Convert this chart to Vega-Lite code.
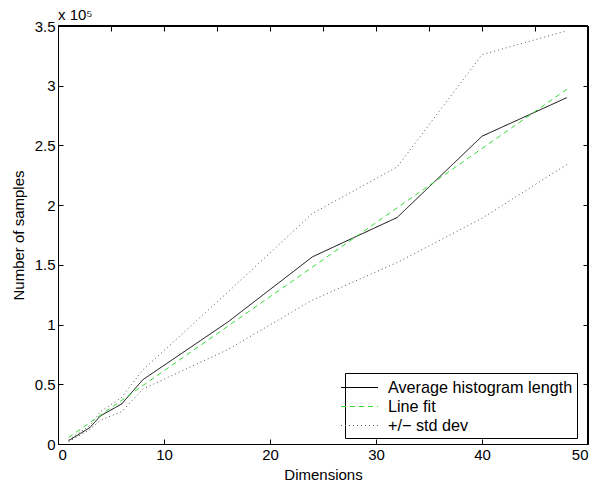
{
  "$schema": "https://vega.github.io/schema/vega-lite/v6.json",
  "width": 530,
  "height": 418,
  "autosize": "none",
  "padding": {"left": 58, "top": 26, "right": 10, "bottom": 40},
  "background": "white",
  "config": {
    "font": "Liberation Sans",
    "view": {"stroke": null},
    "axis": {
      "grid": false,
      "domainColor": "black",
      "domainWidth": 1,
      "tickColor": "black",
      "tickWidth": 1,
      "tickSize": -5,
      "labelColor": "black",
      "labelFontSize": 15,
      "titleFontSize": 15,
      "titleFontWeight": "normal",
      "titleColor": "black"
    },
    "axisTop": {"labelOpacity": 0, "labelFontSize": 1, "labelPadding": 0, "tickCount": 5},
    "axisRight": {"labelOpacity": 0, "labelFontSize": 1, "labelPadding": 0, "tickCount": 7}
  },
  "title": {
    "text": "x 10⁵",
    "anchor": "start",
    "frame": "group",
    "fontSize": 15,
    "fontWeight": "normal",
    "color": "black",
    "offset": 2,
    "dy": 6
  },
  "data": {
    "values": [
      {"d": 1, "v": 2800, "series": "Average histogram length", "part": "mean"},
      {"d": 3, "v": 13700, "series": "Average histogram length", "part": "mean"},
      {"d": 4, "v": 23500, "series": "Average histogram length", "part": "mean"},
      {"d": 6, "v": 33500, "series": "Average histogram length", "part": "mean"},
      {"d": 8, "v": 53800, "series": "Average histogram length", "part": "mean"},
      {"d": 16, "v": 102000, "series": "Average histogram length", "part": "mean"},
      {"d": 24, "v": 156700, "series": "Average histogram length", "part": "mean"},
      {"d": 32, "v": 189700, "series": "Average histogram length", "part": "mean"},
      {"d": 40, "v": 257700, "series": "Average histogram length", "part": "mean"},
      {"d": 48, "v": 290000, "series": "Average histogram length", "part": "mean"},
      {"d": 1, "v": 5500, "series": "Line fit", "part": "fit"},
      {"d": 48, "v": 297000, "series": "Line fit", "part": "fit"},
      {"d": 1, "v": 3500, "series": "+/− std dev", "part": "upper"},
      {"d": 3, "v": 15500, "series": "+/− std dev", "part": "upper"},
      {"d": 4, "v": 27000, "series": "+/− std dev", "part": "upper"},
      {"d": 6, "v": 39000, "series": "+/− std dev", "part": "upper"},
      {"d": 8, "v": 62000, "series": "+/− std dev", "part": "upper"},
      {"d": 16, "v": 127000, "series": "+/− std dev", "part": "upper"},
      {"d": 24, "v": 193000, "series": "+/− std dev", "part": "upper"},
      {"d": 32, "v": 232000, "series": "+/− std dev", "part": "upper"},
      {"d": 40, "v": 326000, "series": "+/− std dev", "part": "upper"},
      {"d": 48, "v": 346000, "series": "+/− std dev", "part": "upper"},
      {"d": 1, "v": 2000, "series": "+/− std dev", "part": "lower"},
      {"d": 3, "v": 12000, "series": "+/− std dev", "part": "lower"},
      {"d": 4, "v": 20000, "series": "+/− std dev", "part": "lower"},
      {"d": 6, "v": 27000, "series": "+/− std dev", "part": "lower"},
      {"d": 8, "v": 46000, "series": "+/− std dev", "part": "lower"},
      {"d": 16, "v": 79000, "series": "+/− std dev", "part": "lower"},
      {"d": 24, "v": 120500, "series": "+/− std dev", "part": "lower"},
      {"d": 32, "v": 152000, "series": "+/− std dev", "part": "lower"},
      {"d": 40, "v": 189000, "series": "+/− std dev", "part": "lower"},
      {"d": 48, "v": 234000, "series": "+/− std dev", "part": "lower"}
    ]
  },
  "resolve": {"axis": {"x": "independent", "y": "independent"}},
  "layer": [
    {
      "mark": {"type": "line", "strokeWidth": 1},
      "encoding": {
        "x": {
          "field": "d", "type": "quantitative",
          "scale": {"domain": [0, 50], "nice": false, "zero": false},
          "axis": {"orient": "bottom", "values": [0, 10, 20, 30, 40, 50], "title": "Dimensions", "labelPadding": 8, "titlePadding": 5}
        },
        "y": {
          "field": "v", "type": "quantitative",
          "scale": {"domain": [0, 350000], "nice": false},
          "axis": {"orient": "left", "values": [0, 50000, 100000, 150000, 200000, 250000, 300000, 350000], "labelExpr": "datum.value / 100000", "title": "Number of samples", "labelPadding": 8, "titlePadding": 8}
        },
        "color": {
          "field": "series", "type": "nominal",
          "scale": {"domain": ["Average histogram length", "Line fit", "+/− std dev"], "range": ["#000000", "#33dd33", "#555555"]},
          "legend": {
            "title": null,
            "orient": "none",
            "legendX": 287,
            "legendY": 347,
            "symbolType": "M -1.85 0 L 1.85 0",
            "symbolSize": 400,
            "symbolStrokeWidth": 1,
            "labelFontSize": 16.2,
            "labelColor": "black",
            "labelOffset": 18,
            "labelLimit": 400,
            "padding": 4,
            "rowPadding": 0,
            "strokeColor": "black",
            "fillColor": "white",
            "cornerRadius": 0
          }
        },
        "strokeDash": {
          "field": "series", "type": "nominal",
          "scale": {"domain": ["Average histogram length", "Line fit", "+/− std dev"], "range": [[1, 0], [5, 4], [1, 3]]},
          "legend": {
            "title": null,
            "orient": "none",
            "legendX": 287,
            "legendY": 347
          }
        },
        "detail": {"field": "part", "type": "nominal"}
      }
    },
    {
      "mark": {"type": "rule", "color": "black", "strokeWidth": 1},
      "encoding": {"y": {"datum": 350000}}
    },
    {
      "mark": {"type": "rule", "color": "black", "strokeWidth": 1},
      "encoding": {"x": {"datum": 50}}
    }
  ]
}
